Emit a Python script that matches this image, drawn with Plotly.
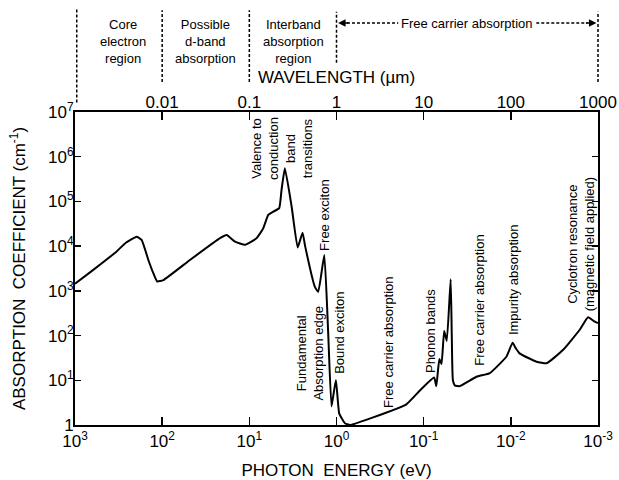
import numpy as np
import plotly.graph_objects as go

# ---- data ----
energy_eV = [1000, 617, 333, 267, 196, 172, 144, 126, 114, 97, 48, 21.7, 18.2, 14.6, 11.2,
             8.24, 6.93, 6.07, 5.32, 4.54, 4.27, 3.91, 3.27, 2.79, 2.45, 2.29, 1.77, 1.62,
             1.38, 1.245, 1.14, 1.016, 0.93, 0.80, 0.70, 0.38, 0.158, 0.112, 0.0759, 0.0716,
             0.0661, 0.0624, 0.0582, 0.0543, 0.049, 0.0476, 0.0462, 0.0437, 0.0385, 0.0248,
             0.0174, 0.0112, 0.00955, 0.00877, 0.00794, 0.00507, 0.00389, 0.00251, 0.00162,
             0.0013, 0.00109, 0.001]
alpha_cm = [1450, 2950, 7600, 11500, 16200, 13800, 4900, 2450, 1620, 1740, 4900, 15100, 17800,
            12600, 10700, 15100, 25000, 50000, 59000, 71000, 182000, 550000, 76000, 9300, 20000,
            10000, 1230, 950, 6300, 112, 2.6, 10.2, 1.8, 1.1, 1.0, 1.48, 2.9, 5.75, 11.5, 7.4,
            30, 23, 126, 76, 1820, 100, 10, 7.6, 7.4, 12, 14.5, 34, 69, 52, 40, 26, 24, 48, 135,
            257, 204, 190]

energy_ticks = [1e3, 1e2, 1e1, 1e0, 1e-1, 1e-2, 1e-3]
energy_ticktext = ["10<sup>3</sup>", "10<sup>2</sup>", "10<sup>1</sup>", "10<sup>0</sup>",
                   "10<sup>-1</sup>", "10<sup>-2</sup>", "10<sup>-3</sup>"]
wavelength_ticks = [0.01, 0.1, 1, 10, 100, 1000]
wavelength_ticktext = ["0.01", "0.1", "1", "10", "100", "1000"]
alpha_ticks = [1, 1e1, 1e2, 1e3, 1e4, 1e5, 1e6, 1e7]
alpha_ticktext = ["1", "10<sup>1</sup>", "10<sup>2</sup>", "10<sup>3</sup>", "10<sup>4</sup>",
                  "10<sup>5</sup>", "10<sup>6</sup>", "10<sup>7</sup>"]

# curve labels: (text, energy eV, alpha)
curve_labels = [
    ("Valence to<br>conduction<br>band<br>transitions", 4.22, 1.57e6),
    ("Free exciton", 1.355, 5.0e4),
    ("Fundamental<br>Absorption edge", 2.03, 41),
    ("Bound exciton", 0.912, 115),
    ("Free carrier absorption", 0.25, 72),
    ("Phonon bands", 0.0847, 126),
    ("Free carrier absorption", 0.0226, 630),
    ("Impurity absorption", 0.00944, 1740),
    ("Cyclotron resonance<br>(magnetic field applied)", 0.00155, 11200),
]

FONT = "Liberation Sans, Arial, sans-serif"
SMALL = 13

fig = go.Figure()
fig.add_trace(go.Scatter(x=energy_eV, y=alpha_cm, mode="lines",
                         line=dict(color="black", width=2, shape="spline", smoothing=0.4),
                         hoverinfo="skip", showlegend=False))
# invisible trace to carry the wavelength axis (lambda ~ 1/E as drawn)
fig.add_trace(go.Scatter(x=[1.0 / e for e in energy_eV], y=alpha_cm, xaxis="x2", mode="lines",
                         line=dict(color="rgba(0,0,0,0)"), hoverinfo="skip", showlegend=False))

fig.update_layout(
    width=619, height=480,
    margin=dict(l=75, r=21, t=112, b=55),
    paper_bgcolor="white", plot_bgcolor="white",
    font=dict(family=FONT, color="black", size=16),
    xaxis=dict(type="log", range=[3, -3], tickvals=energy_ticks, ticktext=energy_ticktext,
               ticks="inside", ticklen=8, tickwidth=1.5, tickcolor="black",
               showline=True, linecolor="black", linewidth=2, mirror=True, automargin=False,
               showgrid=False, zeroline=False, tickfont=dict(size=17),
               title=dict(text="PHOTON  ENERGY (eV)", font=dict(size=17), standoff=18)),
    xaxis2=dict(type="log", range=[-3, 3], overlaying="x", side="top", automargin=False,
                tickvals=wavelength_ticks, ticktext=wavelength_ticktext,
                ticks="inside", ticklen=8, tickwidth=1.5, tickcolor="black",
                showline=False, showgrid=False, zeroline=False, tickfont=dict(size=17),
                title=dict(text="WAVELENGTH (µm)", font=dict(size=17), standoff=4)),
    yaxis=dict(type="log", range=[0, 7], tickvals=alpha_ticks, ticktext=alpha_ticktext,
               ticks="inside", ticklen=6, tickwidth=1.5, tickcolor="black",
               showline=True, linecolor="black", linewidth=2, mirror="ticks", automargin=False,
               showgrid=False, zeroline=False, tickfont=dict(size=17), ticklabelstandoff=-4,
               title=dict(text="ABSORPTION  COEFFICIENT (cm<sup>-1</sup>)", font=dict(size=17),
                          standoff=18)),
)

for text, e, a in curve_labels:
    fig.add_annotation(x=np.log10(e), y=np.log10(a), xref="x", yref="y", text=text,
                       textangle=-90, showarrow=False, font=dict(size=SMALL, family=FONT),
                       xanchor="center", yanchor="middle")

# header regions (paper coordinates, decade boundaries of the energy axis)
def px_x(logE):
    return (3 - logE) / 6.0

dash = dict(color="black", width=1.5, dash="3px,2px")
for logE, y0, y1 in [(2.98, 1.03, 1.33), (2, 1.096, 1.325), (1, 1.096, 1.325),
                     (0, 1.157, 1.32), (-3, 1.096, 1.32)]:
    fig.add_shape(type="line", xref="paper", yref="paper", x0=px_x(logE), x1=px_x(logE),
                  y0=y0, y1=y1, line=dash)

for text, xc in [("Core<br>electron<br>region", 0.092), ("Possible<br>d-band<br>absorption", 0.249),
                 ("Interband<br>absorption<br>region", 0.417)]:
    fig.add_annotation(x=xc, y=1.225, xref="paper", yref="paper", text=text, showarrow=False,
                       font=dict(size=SMALL, family=FONT), xanchor="center", yanchor="middle")

fig.add_annotation(x=0.75, y=1.284, xref="paper", yref="paper", text="Free carrier absorption",
                   showarrow=False, font=dict(size=SMALL, family=FONT), xanchor="center",
                   yanchor="middle")
fig.add_shape(type="line", xref="paper", yref="paper", x0=0.52, x1=0.618, y0=1.284, y1=1.284,
              line=dash)
fig.add_shape(type="line", xref="paper", yref="paper", x0=0.882, x1=0.98, y0=1.284, y1=1.284,
              line=dash)
fig.add_annotation(x=0.503, y=1.284, xref="paper", yref="paper", text="", showarrow=True,
                   ax=12, ay=0, arrowhead=2, arrowsize=1, arrowwidth=1.5, arrowcolor="black")
fig.add_annotation(x=0.997, y=1.284, xref="paper", yref="paper", text="", showarrow=True,
                   ax=-12, ay=0, arrowhead=2, arrowsize=1, arrowwidth=1.5, arrowcolor="black")

fig.write_html("out.html", config={"displayModeBar": False, "staticPlot": True})

# remove default page margin so the figure sits at the window's top-left corner
with open("out.html", "r", encoding="utf-8") as f:
    html = f.read()
html = html.replace("<head>", "<head><style>html,body{margin:0;padding:0;overflow:hidden}</style>", 1)
with open("out.html", "w", encoding="utf-8") as f:
    f.write(html)
